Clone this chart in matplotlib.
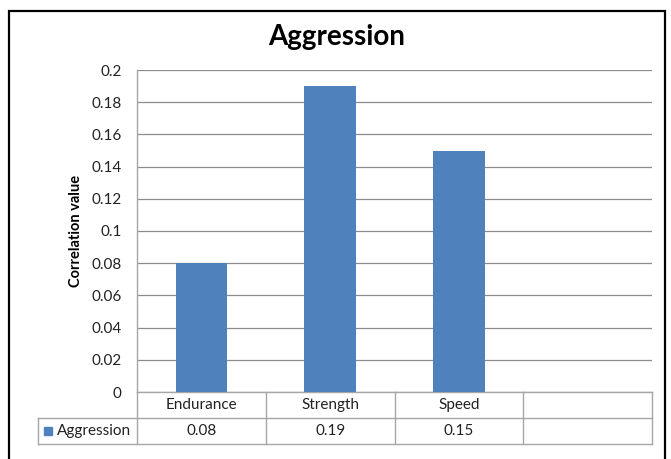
import matplotlib.pyplot as plt
import matplotlib.transforms as mtransforms
from matplotlib.patches import Rectangle

# Correlation of aggression with each trait
categories = ['Endurance', 'Strength', 'Speed', '']
values = [0.08, 0.19, 0.15]
series_name = 'Aggression'
yticks = [0, 0.02, 0.04, 0.06, 0.08, 0.1, 0.12, 0.14, 0.16, 0.18, 0.2]
ytick_labels = ['0', '0.02', '0.04', '0.06', '0.08', '0.1', '0.12', '0.14',
                '0.16', '0.18', '0.2']

plt.rcParams['font.family'] = ['Lato', 'DejaVu Sans']

W, H = 671, 459
fig = plt.figure(figsize=(W / 100, H / 100), dpi=100)

# plot area in pixel coordinates
left, right, top, bottom = 137, 652, 70, 392
ax = fig.add_axes([left / W, (H - bottom) / H, (right - left) / W, (bottom - top) / H])

bar_color = '#4f81bd'
grid_color = '#8c8c8c'
table_color = '#a6a6a6'
text_color = '#222222'
fs = 11

ax.bar(range(len(values)), values, width=0.4, color=bar_color, zorder=3)
ax.set_xlim(-0.5, len(categories) - 0.5)
ax.set_ylim(0, 0.2)
ax.set_yticks(yticks)
ax.set_yticklabels(ytick_labels, fontsize=fs, color=text_color)
ax.tick_params(axis='y', length=0, pad=11)
ax.set_xticks([])
ax.grid(axis='y', color=grid_color, linewidth=0.9, zorder=0)
for side in ['top', 'right', 'bottom']:
    ax.spines[side].set_visible(False)
ax.spines['left'].set_color(table_color)
ax.spines['left'].set_linewidth(1.0)
ax.set_ylabel('Correlation value', fontsize=10.5, fontweight='bold', labelpad=6)

# data table under the axis
ph = bottom - top
row1 = -26 / ph
row2 = -52 / ph
legend_left = (38 - left) / (right - left)
trans = mtransforms.blended_transform_factory(ax.transData, ax.transAxes)
lkw = dict(color=table_color, linewidth=1.0, clip_on=False)

xmin, xmax = -0.5, len(categories) - 0.5
ax.plot([xmin, xmax], [0, 0], transform=trans, **lkw)
ax.plot([legend_left, 1], [row1, row1], transform=ax.transAxes, **lkw)
ax.plot([legend_left, 1], [row2, row2], transform=ax.transAxes, **lkw)
ax.plot([legend_left, legend_left], [row1, row2], transform=ax.transAxes, **lkw)
for i in range(len(categories) + 1):
    ax.plot([i - 0.5, i - 0.5], [0, row2], transform=trans, **lkw)

for i, cat in enumerate(categories):
    ax.text(i, row1 / 2, cat, transform=trans, ha='center', va='center',
            fontsize=fs, color=text_color)
for i, v in enumerate(values):
    ax.text(i, (row1 + row2) / 2, f'{v:g}', transform=trans, ha='center',
            va='center', fontsize=fs, color=text_color)

# legend key inside the first table cell
key_x = (44 - left) / (right - left)
ax.add_patch(Rectangle((key_x, (row1 + row2) / 2 - 8 / ph / 2), 8 / (right - left), 8 / ph,
                       transform=ax.transAxes, color=bar_color, clip_on=False))
ax.text((57 - left) / (right - left), (row1 + row2) / 2, series_name,
        transform=ax.transAxes, ha='left', va='center', fontsize=fs, color=text_color)

fig.text(337 / W, 1 - 37 / H, 'Aggression', ha='center', va='center',
         fontsize=20, fontweight='bold')

# chart frame
fig.patches.append(Rectangle((9 / W, -0.05), (665 - 9) / W, (H - 11) / H + 0.05,
                             transform=fig.transFigure, fill=False,
                             edgecolor='black', linewidth=1.6))

fig.savefig('out.png', dpi=100)
